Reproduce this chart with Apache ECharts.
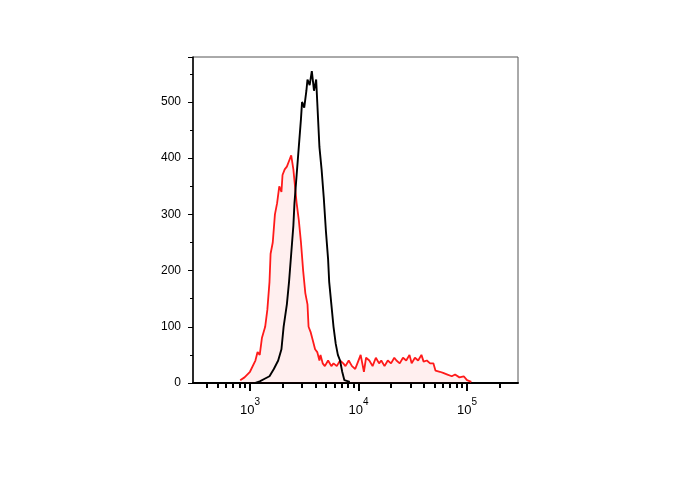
<!DOCTYPE html>
<html><head><meta charset="utf-8">
<script src="https://cdn.jsdelivr.net/npm/echarts@6/dist/echarts.min.js"></script>
<style>html,body{margin:0;padding:0;background:#fff}#c{width:688px;height:490px}</style>
</head><body><div id="c"></div>
<script>
// x values are log10 of fluorescence intensity
const redX = [2.91,2.95,3.00,3.05,3.07,3.09,3.11,3.14,3.16,3.18,3.19,3.21,3.23,3.25,3.27,3.29,3.30,3.32,3.34,3.36,3.38,3.40,3.41,3.43,3.45,3.47,3.49,3.51,3.53,3.54,3.56,3.58,3.60,3.62,3.64,3.65,3.67,3.69,3.72,3.75,3.77,3.80,3.83,3.86,3.88,3.91,3.94,3.97,3.99,4.02,4.05,4.07,4.10,4.13,4.16,4.19,4.21,4.24,4.27,4.30,4.33,4.35,4.38,4.41,4.44,4.47,4.49,4.52,4.55,4.58,4.60,4.63,4.66,4.69,4.71,4.75,4.78,4.82,4.86,4.89,4.93,4.97,5.00,5.04];
const redY = [5,10,20,40,55,50,80,100,130,180,230,250,300,320,350,340,370,380,385,395,405,380,360,320,290,250,200,160,140,100,90,75,60,55,40,50,35,30,40,30,35,30,40,35,30,40,30,25,35,50,20,45,40,30,45,35,40,30,40,35,45,40,35,45,40,50,35,45,40,50,38,40,35,35,22,20,18,15,12,15,10,12,5,2];
const blackX = [3.05,3.09,3.14,3.18,3.22,3.26,3.29,3.31,3.34,3.36,3.38,3.40,3.41,3.43,3.45,3.47,3.48,3.50,3.52,3.53,3.55,3.57,3.59,3.61,3.62,3.64,3.66,3.68,3.70,3.72,3.73,3.75,3.77,3.79,3.81,3.83,3.85,3.87,3.92];
const blackY = [0,3,8,12,25,40,60,100,140,180,230,280,320,370,420,470,500,490,520,540,530,555,520,540,500,420,380,330,270,220,180,140,100,70,50,40,20,5,2];
const majorTicks = [3,4,5];
const minorTickMult = [2,3,4,5,6,7,8,9];
const decades = [2,3,4,5];

const minorTicks = [];
decades.forEach(d => minorTickMult.forEach(m => {
  const v = d + Math.log10(m);
  if (v > 2.48 && v < 5.47) minorTicks.push(v);
}));
const zip = (xs, ys) => xs.map((x, i) => [x, ys[i]]);

const chart = echarts.init(document.getElementById('c'));
chart.setOption({
  animation: false,
  grid: {left: 193, top: 57, right: 170, bottom: 107, show: true, borderColor: '#555', borderWidth: 1},
  xAxis: [{
    type: 'value', min: 2.475, max: 5.47,
    axisLine: {show: true, lineStyle: {color: '#000', width: 2}},
    splitLine: {show: false},
    axisTick: {show: true, length: 8, customValues: majorTicks, lineStyle: {color: '#000', width: 2}},
    axisLabel: {show: true, customValues: majorTicks, margin: 14,
      formatter: v => '{b|10}{s|' + Math.round(v) + '}',
      rich: {b: {fontSize: 13, color: '#000', fontFamily: 'Liberation Sans', padding: [7,0,0,0]},
             s: {fontSize: 10, color: '#000', fontFamily: 'Liberation Sans', verticalAlign: 'top', padding: [0,0,7,0]}}}
  }, {
    type: 'value', min: 2.475, max: 5.47, position: 'bottom',
    axisLine: {show: false}, splitLine: {show: false}, axisLabel: {show: false},
    axisTick: {show: true, length: 5, customValues: minorTicks, lineStyle: {color: '#000', width: 2}}
  }],
  yAxis: {
    type: 'value', min: 0, max: 580, interval: 100,
    axisLine: {show: true, lineStyle: {color: '#000', width: 1.5}},
    splitLine: {show: false},
    axisTick: {show: true, length: 5, lineStyle: {color: '#000'}},
    minorTick: {show: true, splitNumber: 2, length: 3, lineStyle: {color: '#000'}},
    axisLabel: {color: '#000', fontSize: 12, fontFamily: 'Liberation Sans', margin: 12,
      showMaxLabel: false}
  },
  series: [{
    type: 'line', data: zip(redX, redY), showSymbol: false,
    lineStyle: {color: '#ff1a1a', width: 1.8},
    areaStyle: {color: 'rgba(255,0,0,0.09)'}, z: 2
  }, {
    type: 'line', data: zip(blackX, blackY), showSymbol: false,
    lineStyle: {color: '#000', width: 1.9}, z: 3
  }]
});
</script></body></html>
